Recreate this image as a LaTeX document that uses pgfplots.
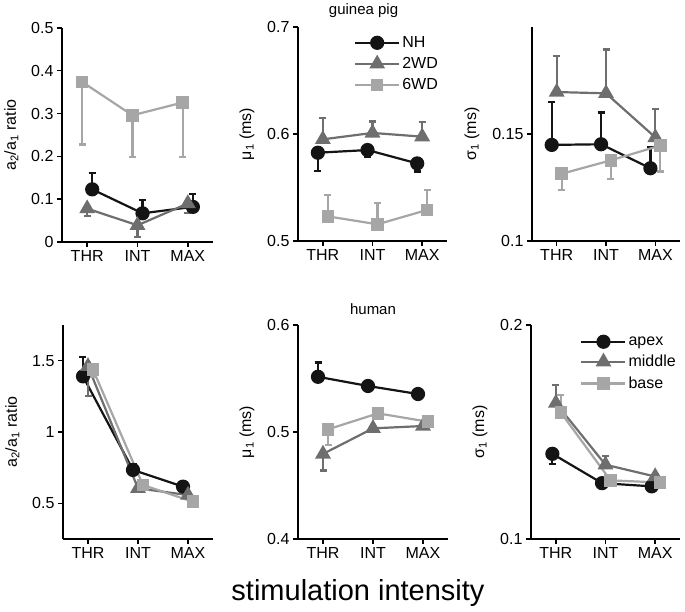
\documentclass[border=0pt]{standalone}
\usepackage{fontspec}
\setmainfont{Liberation Sans}
\usepackage{pgfplots}
\pgfplotsset{compat=1.18}

\definecolor{cA}{HTML}{141414}
\definecolor{cB}{HTML}{6E6E6E}
\definecolor{cC}{HTML}{A6A6A6}

\pgfplotsset{
  panel/.style={
    scale only axis, height=214pt,
    axis x line*=bottom, axis y line*=left,
    axis line style={line width=2.4pt, black},
    xmin=0.5, xmax=3.5, xtick={1,2,3}, xticklabels={THR,INT,MAX},
    tick align=outside, major tick length=5pt,
    tick style={line width=1.4pt, black},
    tick label style={font=\fontsize{16}{17}\selectfont},
    label style={font=\fontsize{16}{17}\selectfont},
    ylabel shift=6pt,
    /pgf/number format/assume math mode=true,
    yticklabel style={/pgf/number format/fixed, /pgf/number format/precision=2},
    clip=false,
    legend style={draw=none, fill=none, font=\fontsize{16}{17}\selectfont,
      row sep=4.5pt, legend cell align=left},
    legend image code/.code={\draw[mark repeat=2, mark phase=2]
      plot coordinates {(0pt,0pt) (22pt,0pt) (44pt,0pt)};},
  },
  ebar/.style={error bars/y explicit,
    error bars/error bar style={line width=2.2pt},
    error bars/error mark options={rotate=90, line width=2.2pt, mark size=3.5pt}},
  sA/.style={cA, line width=2.2pt, mark=*, mark size=6pt,
    mark options={solid, fill=cA}, ebar},
  sB/.style={cB, line width=2.2pt, mark=triangle*, mark size=7pt,
    mark options={solid, fill=cB}, ebar},
  sC/.style={cC, line width=2.2pt, mark=square*, mark size=5.2pt,
    mark options={solid, fill=cC}, ebar},
}

\begin{document}
\begin{tikzpicture}
\useasboundingbox (0pt,0pt) rectangle (685pt,612pt);

% ---------- guinea pig: a2/a1 ratio
\begin{axis}[panel, width=151pt, at={(62pt,370pt)}, anchor=south west,
  ymin=0, ymax=0.5, ytick={0,0.1,0.2,0.3,0.4,0.5},
  ylabel={a\textsubscript{2}/a\textsubscript{1} ratio}]
  \addplot[sC, error bars/y dir=minus] coordinates {
    (0.9,0.374) -= (0,0.146) (1.9,0.296) -= (0,0.097) (2.9,0.326) -= (0,0.128)};
  \addplot[sA, error bars/y dir=plus] coordinates {
    (1.1,0.123) += (0,0.038) (2.1,0.067) += (0,0.031) (3.1,0.082) += (0,0.030)};
  \addplot[sB, error bars/y dir=minus] coordinates {
    (1,0.078) -= (0,0.018) (2,0.039) -= (0,0.027) (3,0.090) -= (0,0.023)};
\end{axis}

% ---------- guinea pig: mu1
\begin{axis}[panel, width=149pt, at={(298pt,371pt)}, anchor=south west,
  ymin=0.5, ymax=0.7, ytick={0.5,0.6,0.7},
  ylabel={μ\textsubscript{1} (ms)},
  legend style={at={(0.355,0.975)}, anchor=north west}]
  \addplot[sA, error bars/y dir=minus] coordinates {
    (0.9,0.5825) -= (0,0.017) (1.9,0.585) -= (0,0.006) (2.9,0.5725) -= (0,0.0075)};
  \addplot[sB, error bars/y dir=plus] coordinates {
    (1,0.595) += (0,0.0197) (2,0.601) += (0,0.0106) (3,0.5975) += (0,0.0135)};
  \addplot[sC, error bars/y dir=plus] coordinates {
    (1.1,0.523) += (0,0.020) (2.1,0.5156) += (0,0.020) (3.1,0.529) += (0,0.019)};
  \legend{NH,2WD,6WD}
  \node[font=\fontsize{15}{16}\selectfont] at (rel axis cs:0.44,1.075) {guinea pig};
\end{axis}

% ---------- guinea pig: sigma1
\begin{axis}[panel, width=148pt, at={(532pt,371pt)}, anchor=south west,
  ymin=0.1, ymax=0.2, ytick={0.1,0.15},
  ylabel={σ\textsubscript{1} (ms)}]
  \addplot[sA, error bars/y dir=plus] coordinates {
    (0.9,0.1449) += (0,0.020) (1.9,0.1452) += (0,0.0148) (2.9,0.134) += (0,0.0098)};
  \addplot[sB, error bars/y dir=plus] coordinates {
    (1,0.1696) += (0,0.0167) (2,0.169) += (0,0.0205) (3,0.1484) += (0,0.0132)};
  \addplot[sC, error bars/y dir=minus] coordinates {
    (1.1,0.1314) -= (0,0.0077) (2.1,0.1377) -= (0,0.0087) (3.1,0.1446) -= (0,0.0121)};
\end{axis}

% ---------- human: a2/a1 ratio
\begin{axis}[panel, width=150pt, at={(63pt,73pt)}, anchor=south west,
  ymin=0.25, ymax=1.75, ytick={0.5,1,1.5},
  ylabel={a\textsubscript{2}/a\textsubscript{1} ratio}]
  \addplot[sA, error bars/y dir=plus] coordinates {
    (0.9,1.39) += (0,0.136) (1.9,0.734) += (0,0.04) (2.9,0.617) += (0,0.02)};
  \addplot[sB, error bars/y dir=minus] coordinates {
    (1,1.46) -= (0,0.206) (2,0.605) -= (0,0.02) (3,0.558) -= (0,0.02)};
  \addplot[sC, error bars/y dir=minus] coordinates {
    (1.1,1.437) -= (0,0.05) (2.1,0.628) -= (0,0.02) (3.1,0.511) -= (0,0.03)};
\end{axis}

% ---------- human: mu1
\begin{axis}[panel, width=150pt, at={(298pt,73pt)}, anchor=south west,
  ymin=0.4, ymax=0.6, ytick={0.4,0.5,0.6},
  ylabel={μ\textsubscript{1} (ms)}]
  \addplot[sA, error bars/y dir=plus] coordinates {
    (0.9,0.5516) += (0,0.0134) (1.9,0.543) += (0,0.004) (2.9,0.5355) += (0,0.003)};
  \addplot[sB, error bars/y dir=minus] coordinates {
    (1,0.4795) -= (0,0.0155) (2,0.5034) -= (0,0.003) (3,0.5056) -= (0,0.003)};
  \addplot[sC, error bars/y dir=minus] coordinates {
    (1.1,0.5025) -= (0,0.0145) (2.1,0.5174) -= (0,0.002) (3.1,0.5096) -= (0,0.002)};
  \node[font=\fontsize{15}{16}\selectfont] at (rel axis cs:0.5,1.075) {human};
\end{axis}

% ---------- human: sigma1
\begin{axis}[panel, width=149pt, at={(531pt,73pt)}, anchor=south west,
  ymin=0.1, ymax=0.2, ytick={0.1,0.2},
  ylabel={σ\textsubscript{1} (ms)},
  legend style={at={(0.31,0.965)}, anchor=north west}]
  \addplot[sA, error bars/y dir=minus] coordinates {
    (0.93,0.1398) -= (0,0.0047) (1.93,0.1261) -= (0,0.001) (2.93,0.1246) -= (0,0.001)};
  \addplot[sB, error bars/y dir=plus] coordinates {
    (1,0.1635) += (0,0.0085) (2,0.1347) += (0,0.0039) (3,0.1292) += (0,0.001)};
  \addplot[sC, error bars/y dir=plus] coordinates {
    (1.1,0.1591) += (0,0.0082) (2.1,0.1274) += (0,0.001) (3.1,0.1264) += (0,0.001)};
  \legend{apex,middle,base}
\end{axis}

\node[font=\fontsize{29}{31}\selectfont] at (358pt,19pt) {stimulation intensity};
\end{tikzpicture}
\end{document}
